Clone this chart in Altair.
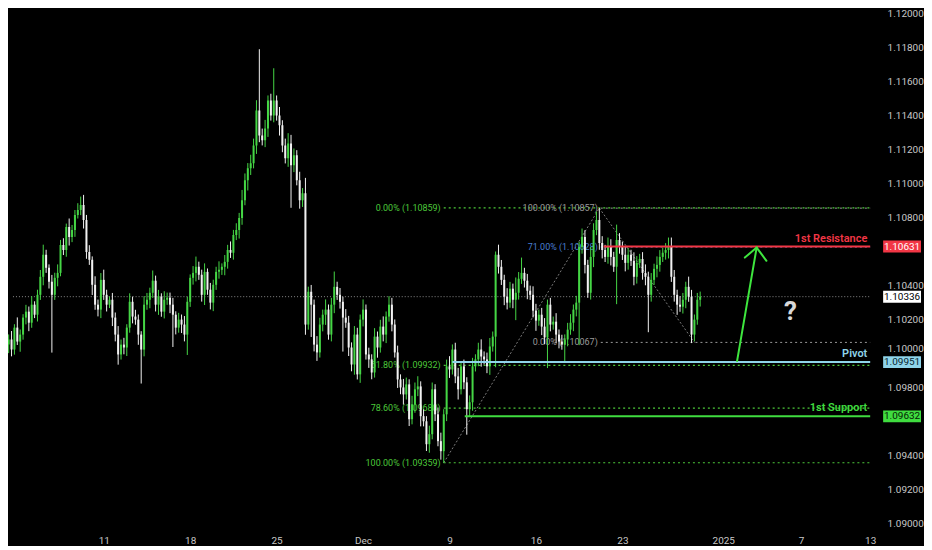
import json
import altair as alt
import pandas as pd

# ---------------- data ----------------
first_open = 1.09949
closes = [
    1.10054, 1.10084, 1.10025, 1.10154, 1.10072, 1.10113, 1.10213, 1.10248, 1.10183, 1.10289,
    1.10230, 1.10347, 1.10453, 1.10582, 1.10506, 1.10424, 1.10347, 1.10447, 1.10476, 1.10640,
    1.10611, 1.10746, 1.10687, 1.10728, 1.10816, 1.10846, 1.10875, 1.10787, 1.10599, 1.10553,
    1.10406, 1.10289, 1.10260, 1.10435, 1.10347, 1.10289, 1.10318, 1.10213, 1.10113, 1.09996,
    1.10054, 1.10037, 1.10154, 1.10306, 1.10219, 1.10201, 1.10113, 1.10025, 1.10289, 1.10318,
    1.10359, 1.10430, 1.10289, 1.10336, 1.10248, 1.10318, 1.10330, 1.10289, 1.10230, 1.10154,
    1.10201, 1.10172, 1.10113, 1.10306, 1.10447, 1.10476, 1.10512, 1.10465, 1.10347, 1.10482,
    1.10377, 1.10301, 1.10406, 1.10482, 1.10494, 1.10512, 1.10541, 1.10611, 1.10594, 1.10699,
    1.10728, 1.10799, 1.10904, 1.11021, 1.11092, 1.11121, 1.11226, 1.11432, 1.11285, 1.11256,
    1.11326, 1.11490, 1.11402, 1.11490, 1.11402, 1.11344, 1.11226, 1.11150, 1.11238, 1.11109,
    1.11168, 1.11021, 1.10904, 1.10945, 1.10172, 1.10365, 1.10289, 1.10054, 1.10008, 1.10172,
    1.10230, 1.10260, 1.10113, 1.10289, 1.10394, 1.10347, 1.10306, 1.10213, 1.10183, 1.10037,
    1.09937, 1.10113, 1.09879, 1.10201, 1.10260, 1.09996, 1.09967, 1.09890, 1.10101, 1.10037,
    1.10160, 1.10113, 1.10219, 1.10289, 1.10172, 1.10008, 1.09849, 1.09802, 1.09761, 1.09820,
    1.09615, 1.09703, 1.09791, 1.09808, 1.09633, 1.09603, 1.09468, 1.09527, 1.09791, 1.09644,
    1.09486, 1.09427, 1.09644, 1.09926, 1.09908, 1.10025, 1.09867, 1.09791, 1.09926, 1.09832,
    1.09674, 1.09715, 1.09926, 1.09967, 1.10025, 1.09984, 1.09967, 1.09926, 1.10043, 1.10101,
    1.10582, 1.10512, 1.10435, 1.10336, 1.10301, 1.10383, 1.10318, 1.10359, 1.10441, 1.10476,
    1.10430, 1.10371, 1.10347, 1.10254, 1.10195, 1.10230, 1.10160, 1.10096, 1.10289, 1.10172,
    1.10189, 1.10113, 1.10072, 1.10054, 1.10084, 1.10142, 1.10183, 1.10260, 1.10301, 1.10629,
    1.10687, 1.10523, 1.10359, 1.10570, 1.10728, 1.10787, 1.10652, 1.10611, 1.10570, 1.10634,
    1.10570, 1.10512, 1.10670, 1.10629, 1.10582, 1.10535, 1.10582, 1.10547, 1.10453, 1.10535,
    1.10558, 1.10476, 1.10453, 1.10347, 1.10435, 1.10500, 1.10523, 1.10570, 1.10594, 1.10611,
    1.10634, 1.10453, 1.10347, 1.10289, 1.10277, 1.10318, 1.10394, 1.10336, 1.10113, 1.10201,
    1.10318, 1.10336,
]
upper_wick_pips = [
    4, 3, 5, 2, 6, 3, 2, 4, 3, 5, 2, 3, 4, 6, 3, 2, 4, 3, 5, 3,
    4, 2, 5, 3, 3, 4, 5, 6, 3, 4, 2, 5, 3, 4, 6, 3, 2, 4, 3, 5,
    3, 4, 2, 5, 3, 4, 3, 2, 5, 4, 3, 6, 3, 4, 2, 5, 3, 3, 4, 2,
    4, 3, 5, 3, 2, 4, 6, 3, 3, 5, 2, 4, 3, 3, 5, 2, 4, 3, 5, 3,
    4, 3, 6, 4, 3, 5, 4, 6, 36, 4, 5, 3, 4, 19, 3, 5, 3, 4, 6, 5,
    4, 3, 5, 3, 9, 3, 4, 3, 5, 4, 3, 6, 3, 4, 9, 3, 4, 3, 5, 4,
    3, 5, 4, 3, 6, 3, 4, 3, 5, 3, 4, 6, 3, 5, 4, 3, 4, 3, 5, 4,
    3, 5, 4, 6, 3, 4, 3, 5, 4, 3, 4, 5, 3, 4, 6, 3, 4, 5, 3, 4,
    3, 4, 5, 3, 4, 6, 3, 4, 5, 3, 2, 6, 4, 3, 5, 4, 3, 9, 4, 9,
    3, 4, 3, 5, 4, 3, 4, 5, 3, 4, 3, 5, 3, 4, 3, 4, 5, 3, 4, 3,
    5, 4, 3, 6, 4, 5, 7, 4, 3, 5, 4, 3, 9, 4, 3, 5, 4, 3, 5, 4,
    3, 4, 5, 3, 4, 3, 5, 4, 3, 4, 5, 5, 4, 3, 5, 4, 3, 6, 4, 3,
    4, 3,
]
lower_wick_pips = [
    3, 5, 4, 3, 2, 6, 3, 4, 5, 3, 2, 4, 3, 5, 3, 4, 34, 3, 5, 2,
    3, 4, 5, 3, 4, 2, 3, 5, 4, 3, 6, 3, 4, 5, 3, 4, 2, 5, 4, 6,
    3, 4, 5, 3, 4, 3, 6, 20, 4, 3, 5, 3, 4, 6, 3, 4, 3, 5, 19, 4,
    3, 5, 4, 12, 3, 4, 5, 3, 4, 6, 3, 4, 5, 3, 4, 3, 5, 4, 3, 4,
    3, 5, 4, 3, 6, 4, 3, 5, 4, 3, 4, 5, 3, 4, 3, 6, 4, 3, 5, 25,
    4, 3, 5, 4, 6, 3, 19, 4, 5, 3, 4, 6, 3, 4, 5, 3, 4, 20, 3, 5,
    4, 6, 3, 5, 4, 3, 5, 4, 3, 6, 3, 4, 5, 3, 4, 3, 5, 4, 6, 3,
    4, 3, 5, 4, 6, 3, 4, 5, 3, 4, 3, 5, 7, 4, 5, 3, 4, 6, 3, 4,
    15, 4, 5, 3, 4, 6, 3, 4, 5, 3, 18, 4, 3, 5, 4, 3, 5, 12, 4, 3,
    4, 5, 3, 4, 6, 3, 5, 4, 18, 4, 3, 5, 4, 3, 10, 4, 3, 5, 4, 25,
    4, 5, 3, 4, 6, 3, 4, 5, 3, 4, 5, 3, 22, 4, 3, 5, 4, 3, 5, 4,
    3, 4, 5, 22, 4, 3, 5, 4, 3, 4, 5, 3, 4, 6, 3, 4, 5, 3, 5, 4,
    3, 4,
]

# x axis: bar index of each date label
tick_index = [34, 64, 94, 124, 154, 184, 214, 249, 276, 300]
tick_labels = ["11", "18", "25", "Dec", "9", "16", "23", "2025", "7", "13"]
# 1.10600 and 1.09600 sit under the price tags in the reference
price_ticks = [1.09000, 1.09200, 1.09400, 1.09800, 1.10000, 1.10200, 1.10400,
               1.10800, 1.11000, 1.11200, 1.11400, 1.11600, 1.11800, 1.12000]

# key levels
level_names = ["1st Resistance", "Pivot", "1st Support"]
level_prices = [1.10631, 1.09951, 1.09632]
level_start = [207.5, 155.0, 159.3]
level_colors = ["#f23645", "#8fd4ea", "#3fdc3f"]

# fib tool 1 (green)
fib1_labels = ["0.00% (1.10859)", "61.80% (1.09932)", "78.60% (1.09680)", "100.00% (1.09359)"]
fib1_prices = [1.10859, 1.09932, 1.09680, 1.09359]
fib1_start = 152.0
# fib tool 2 (grey / blue)
fib2_labels = ["100.00% (1.10857)", "71.00% (1.10628)", "0.00% (1.10067)"]
fib2_prices = [1.10857, 1.10628, 1.10067]
fib2_colors = ["#9a9a9a", "#4a7fd0", "#9a9a9a"]
fib2_start = 206.5

# fib trend lines
trend_x = [152.0, 206.0, 239.0]
trend_p = [1.09359, 1.10857, 1.10067]

# arrow (shaft, then two head wings)
arrow_x = [253.8, 260.6, 260.6]
arrow_p = [1.09957, 1.10625, 1.10625]
arrow_x2 = [260.6, 256.5, 264.0]
arrow_p2 = [1.10625, 1.10566, 1.10547]

question_x, question_p = 272.3, 1.10248
last_price = 1.10336

tag_prices = [1.10631, 1.10336, 1.09951, 1.09632]
tag_fill = ["#f23645", "#ffffff", "#8fd4ea", "#3fdc3f"]
tag_text = ["#ffffff", "#000000", "#06252e", "#052005"]

# ---------------- build ----------------
W, H = 870, 516
X_DOM = [2.5, 300.0]
Y_DOM = [1.08974, 1.12]
GREEN = "#45d645"
WHITE = "#f2f2f2"
FONT = "Roboto"

opens = [first_open] + closes[:-1]
rows = []
for i, (o, c, u, l) in enumerate(zip(opens, closes, upper_wick_pips, lower_wick_pips)):
    rows.append({
        "i": i, "open": o, "close": c,
        "high": max(o, c) + u * 0.0001,
        "low": min(o, c) - l * 0.0001,
        "dir": "up" if c >= o else "down",
    })
candles = pd.DataFrame(rows)

xscale = alt.Scale(domain=X_DOM, nice=False, zero=False)
yscale = alt.Scale(domain=Y_DOM, nice=False, zero=False)
label_expr = f"{json.dumps(tick_labels)}[indexof({json.dumps(tick_index)}, datum.value)]"
xaxis = alt.Axis(values=tick_index, labelExpr=label_expr, grid=False, ticks=False, domain=False,
                 labelColor="#c8c8c8", labelFont=FONT, labelFontSize=10, labelPadding=7,
                 title=None, labelFlush=False)
yaxis = alt.Axis(values=price_ticks, format=".5f", orient="right", grid=False, ticks=False,
                 domain=False, labelColor="#c8c8c8", labelFont=FONT, labelFontSize=10,
                 labelPadding=12, title=None, labelFlush=False,
                 labelBaseline={"condition": {"test": "abs(datum.value - 1.1) < 0.000001",
                                              "value": "bottom"},
                                "value": "middle"})


def X(f):
    return alt.X(f, type="quantitative", scale=xscale, axis=xaxis)


def Y(f):
    return alt.Y(f, type="quantitative", scale=yscale, axis=yaxis)


color = alt.Color("dir:N", scale=alt.Scale(domain=["up", "down"], range=[GREEN, WHITE]), legend=None)

wicks = alt.Chart(candles).mark_rule(strokeWidth=1, clip=True).encode(
    x=X("i"), y=Y("low"), y2="high", color=color)
bodies = alt.Chart(candles).mark_bar(size=2, clip=True).encode(
    x=X("i"), y=Y("open"), y2="close", color=color)

# current price dotted line
cur = alt.Chart(pd.DataFrame({"p": [last_price], "x": [X_DOM[0]], "x2": [X_DOM[1]]})).mark_rule(
    color="#8a8a8a", strokeDash=[1, 2], strokeWidth=1).encode(x=X("x"), x2="x2", y=Y("p"))

fib1 = pd.DataFrame({"label": fib1_labels, "p": fib1_prices,
                     "x": [fib1_start] * 4, "x2": [X_DOM[1]] * 4})
fib1_lines = alt.Chart(fib1).mark_rule(color="#4cc83a", strokeDash=[2, 3], strokeWidth=1.2).encode(
    x=X("x"), x2="x2", y=Y("p"))
fib1_text = alt.Chart(fib1).mark_text(align="right", baseline="middle", dx=-3, fontSize=9,
                                      font=FONT, color="#4cc83a").encode(
    x=X("x"), y=Y("p"), text="label")

fib2 = pd.DataFrame({"label": fib2_labels, "p": fib2_prices, "c": fib2_colors,
                     "x": [fib2_start] * 3, "x2": [X_DOM[1]] * 3})
fib2_lines = alt.Chart(fib2).mark_rule(strokeDash=[2, 3], strokeWidth=1).encode(
    x=X("x"), x2="x2", y=Y("p"), color=alt.Color("c:N", scale=None))
fib2_text = alt.Chart(fib2).mark_text(align="right", baseline="middle", dx=-3, fontSize=9,
                                      font=FONT).encode(
    x=X("x"), y=Y("p"), text="label", color=alt.Color("c:N", scale=None))

trend = pd.DataFrame({"x": trend_x[:2], "p": trend_p[:2], "x2": trend_x[1:], "p2": trend_p[1:]})
trend_lines = alt.Chart(trend).mark_rule(color="#7a7a7a", strokeDash=[2, 2], strokeWidth=1).encode(
    x=X("x"), y=Y("p"), x2="x2", y2="p2")

levels = pd.DataFrame({"name": level_names, "p": level_prices, "x": level_start,
                       "x2": [X_DOM[1]] * 3, "c": level_colors, "xt": [299.0] * 3})
level_lines = alt.Chart(levels).mark_rule(strokeWidth=2, clip=True).encode(
    x=X("x"), x2="x2", y=Y("p"), color=alt.Color("c:N", scale=None))
level_text = alt.Chart(levels).mark_text(align="right", baseline="bottom", dy=-3, fontSize=11,
                                         font=FONT, fontWeight=600).encode(
    x=X("xt"), y=Y("p"), text="name", color=alt.Color("c:N", scale=None))

arrow = pd.DataFrame({"x": arrow_x, "p": arrow_p, "x2": arrow_x2, "p2": arrow_p2})
arrow_lines = alt.Chart(arrow).mark_rule(color="#3ee63e", strokeWidth=2, strokeCap="round").encode(
    x=X("x"), y=Y("p"), x2="x2", y2="p2")

qmark = alt.Chart(pd.DataFrame({"x": [question_x], "p": [question_p], "t": ["?"]})).mark_text(
    fontSize=26, fontWeight="bold", font=FONT, color="#d8d8d8", baseline="middle").encode(
    x=X("x"), y=Y("p"), text="t")

tags = pd.DataFrame({"p": tag_prices, "fill": tag_fill, "tc": tag_text,
                     "t": [f"{v:.5f}" for v in tag_prices]})
tag_box = alt.Chart(tags).transform_calculate(
    top="datum.p + 0.00035", bot="datum.p - 0.00035").mark_rect().encode(
    x=alt.value(W + 8), x2=alt.value(W + 46), y=Y("top:Q"), y2="bot:Q",
    color=alt.Color("fill:N", scale=None))
tag_txt = alt.Chart(tags).mark_text(fontSize=10, font=FONT, baseline="middle", align="center").encode(
    x=alt.value(W + 27), y=Y("p"), text="t", color=alt.Color("tc:N", scale=None))

chart = alt.layer(
    cur, fib1_lines, fib2_lines, trend_lines, fib1_text, fib2_text,
    wicks, bodies,
    level_lines, arrow_lines, level_text, qmark, tag_box, tag_txt,
).properties(width=W, height=H, background="#000000", padding=0).configure_view(strokeWidth=0)

chart.save("out.html", embed_options={"renderer": "svg", "actions": False})
